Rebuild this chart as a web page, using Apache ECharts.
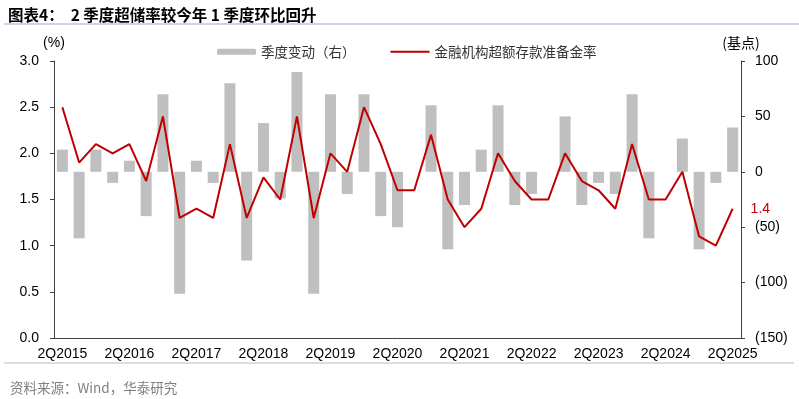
<!DOCTYPE html>
<html>
<head>
<meta charset="utf-8">
<script src="https://cdn.jsdelivr.net/npm/echarts@6/dist/echarts.min.js"></script>
<style>
  html, body { margin: 0; padding: 0; background: #fff; }
  #chart { width: 799px; height: 399px; }
</style>
</head>
<body>
<div id="chart"></div>
<script>
// quarters 2Q2015 .. 2Q2025
const quarters = [
  "2Q2015", "3Q2015", "4Q2015", "1Q2016", "2Q2016", "3Q2016", "4Q2016", "1Q2017",
  "2Q2017", "3Q2017", "4Q2017", "1Q2018", "2Q2018", "3Q2018", "4Q2018", "1Q2019",
  "2Q2019", "3Q2019", "4Q2019", "1Q2020", "2Q2020", "3Q2020", "4Q2020", "1Q2021",
  "2Q2021", "3Q2021", "4Q2021", "1Q2022", "2Q2022", "3Q2022", "4Q2022", "1Q2023",
  "2Q2023", "3Q2023", "4Q2023", "1Q2024", "2Q2024", "3Q2024", "4Q2024", "1Q2025",
  "2Q2025"
];

// 金融机构超额存款准备金率 (%)
const excessReserveRate = [
  2.5, 1.9, 2.1, 2.0, 2.1, 1.7, 2.4, 1.3,
  1.4, 1.3, 2.1, 1.3, 1.74, 1.5, 2.4, 1.3,
  2.0, 1.8, 2.5, 2.1, 1.6, 1.6, 2.2, 1.5,
  1.2, 1.4, 2.0, 1.7, 1.5, 1.5, 2.0, 1.7,
  1.6, 1.4, 2.1, 1.5, 1.5, 1.8, 1.1, 1.0,
  1.4
];

// 季度变动 (基点)
const quarterlyChange = [
  20, -60, 20, -10, 10, -40, 70, -110,
  10, -10, 80, -80, 44, -24, 90, -110,
  70, -20, 70, -40, -50, 0, 60, -70,
  -30, 20, 60, -30, -20, 0, 50, -30,
  -10, -20, 70, -60, 0, 30, -70, -10,
  40
];

const leftTicks = [0, 0.5, 1.0, 1.5, 2.0, 2.5, 3.0];
const rightTicks = [-150, -100, -50, 0, 50, 100];

const chart = echarts.init(document.getElementById("chart"));

const axisColor = "#404040";
const labelFont = "Liberation Sans, Arial, sans-serif";
const cjkFont = "Noto Sans CJK SC, sans-serif";

const option = {
  animation: false,
  backgroundColor: "#fff",
  title: [
    {
      text: "图表4：  2 季度超储率较今年 1 季度环比回升",
      left: 3,
      top: 2,
      textStyle: { fontSize: 15.5, fontWeight: "bold", color: "#000", fontFamily: cjkFont }
    },
    {
      text: "资料来源：Wind，华泰研究",
      left: 5,
      top: 376,
      textStyle: { fontSize: 13.5, fontWeight: "normal", color: "#808080", fontFamily: cjkFont }
    }
  ],
  graphic: [
    { type: "line", shape: { x1: 4, y1: 24, x2: 799, y2: 24 }, style: { stroke: "#b8c8dc", lineWidth: 1.5 } },
    { type: "line", shape: { x1: 4, y1: 363, x2: 794, y2: 363 }, style: { stroke: "#c8d4e2", lineWidth: 1.5 } }
  ],
  legend: {
    left: 217,
    top: 45,
    padding: 0,
    itemWidth: 39,
    itemHeight: 6,
    itemGap: 34,
    textStyle: { fontSize: 13.5, color: "#333", fontFamily: cjkFont },
    data: [
      "季度变动（右）",
      { name: "金融机构超额存款准备金率", itemStyle: { color: "rgba(0,0,0,0)", borderWidth: 0 } }
    ]
  },
  grid: { left: 54, right: 58, top: 61, bottom: 61 },
  xAxis: {
    type: "category",
    data: quarters,
    boundaryGap: true,
    axisLine: { lineStyle: { color: axisColor, width: 1 } },
    axisTick: { interval: 3, length: 4, lineStyle: { color: axisColor } },
    axisLabel: { interval: 3, fontSize: 14, color: "#000", margin: 9, fontFamily: labelFont }
  },
  yAxis: [
    {
      type: "value",
      min: leftTicks[0],
      max: leftTicks[leftTicks.length - 1],
      interval: 0.5,
      name: "(%)",
      nameGap: 11,
      nameTextStyle: { fontSize: 14, color: "#000", fontFamily: labelFont },
      axisLine: { show: true, lineStyle: { color: axisColor } },
      axisTick: { show: true, length: 4, lineStyle: { color: axisColor } },
      splitLine: { show: false },
      axisLabel: {
        fontSize: 14, color: "#000", margin: 15, fontFamily: labelFont,
        formatter: v => v.toFixed(1)
      }
    },
    {
      type: "value",
      min: rightTicks[0],
      max: rightTicks[rightTicks.length - 1],
      interval: 50,
      name: "(基点)",
      nameGap: 11,
      nameTextStyle: { fontSize: 14, color: "#000", fontFamily: cjkFont },
      axisLine: { show: true, lineStyle: { color: axisColor } },
      axisTick: { show: true, length: 4, lineStyle: { color: axisColor } },
      splitLine: { show: false },
      axisLabel: {
        fontSize: 14, color: "#000", margin: 14, fontFamily: labelFont,
        formatter: v => (v < 0 ? "(" + (-v) + ")" : String(v))
      }
    }
  ],
  series: [
    {
      name: "季度变动（右）",
      type: "bar",
      yAxisIndex: 1,
      barWidth: 11,
      itemStyle: { color: "#bfbfbf" },
      data: quarterlyChange
    },
    {
      name: "金融机构超额存款准备金率",
      type: "line",
      yAxisIndex: 0,
      symbol: "none",
      lineStyle: { color: "#c00000", width: 2 },
      itemStyle: { color: "#c00000" },
      endLabel: {
        show: true,
        distance: 18,
        color: "#c00000",
        fontSize: 14,
        fontFamily: labelFont,
        formatter: p => p.value.toFixed(1)
      },
      data: excessReserveRate
    }
  ]
};

chart.setOption(option);
</script>
</body>
</html>
